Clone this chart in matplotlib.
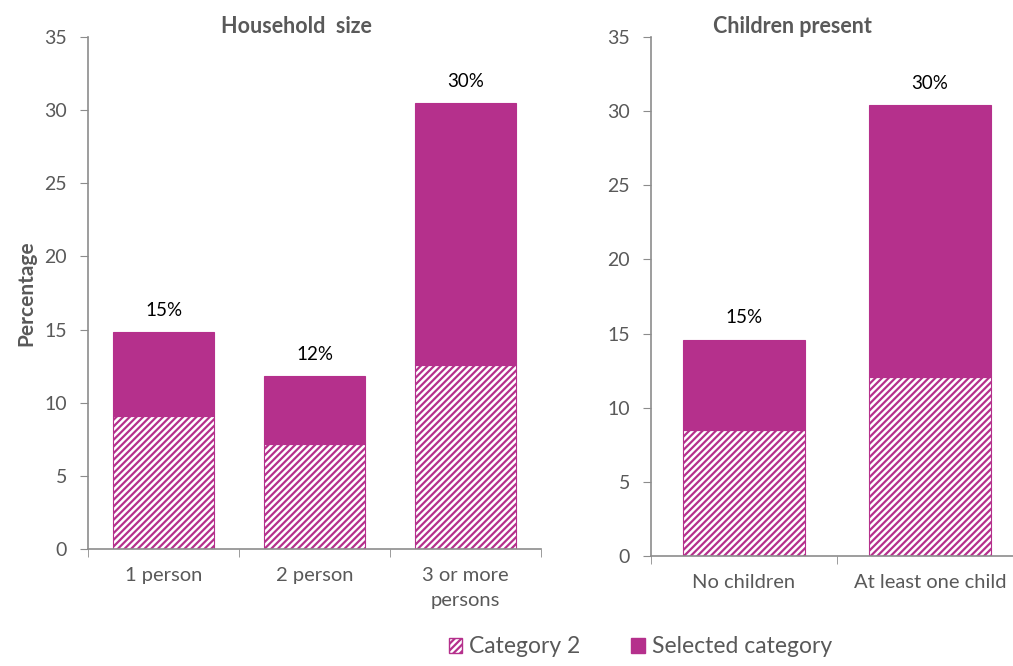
import matplotlib.pyplot as plt
import numpy as np
from matplotlib.patches import Patch

plt.rcParams['font.family'] = ['Lato', 'DejaVu Sans']
plt.rcParams['hatch.color'] = '#B5308C'
plt.rcParams['hatch.linewidth'] = 1.6

# data
hh_labels = ['1 person', '2 person', '3 or more\npersons']
hh_cat2 = [9.1, 7.2, 12.6]
hh_total = [14.8, 11.8, 30.5]
hh_pct = ['15%', '12%', '30%']

ch_labels = ['No children', 'At least one child']
ch_cat2 = [8.5, 12.1]
ch_total = [14.6, 30.4]
ch_pct = ['15%', '30%']

magenta = '#B5308C'
gray = '#595959'
axis_gray = '#8C8C8C'

fig = plt.figure(figsize=(10.13, 6.66), dpi=100)
ax1 = fig.add_axes([88/1013, 1-549/666, 453/1013, 512/666])
ax2 = fig.add_axes([651/1013, 1-556/666, 372/1013, 519/666])


def draw(ax, labels, cat2, total, pct, title, width):
    x = np.arange(len(labels))
    sel = np.array(total) - np.array(cat2)
    ax.bar(x, cat2, width, color='white', edgecolor=magenta, hatch='/////', linewidth=0.8)
    ax.bar(x, sel, width, bottom=cat2, color=magenta, edgecolor=magenta, linewidth=0.8)
    for xi, t, p in zip(x, total, pct):
        ax.text(xi, t + 0.9, p, ha='center', va='bottom', fontsize=13.5, color='black')
    ax.set_xlim(-0.5, len(labels) - 0.5)
    ax.set_ylim(0, 35)
    ax.set_yticks(range(0, 36, 5))
    ax.set_xticks(x)
    ax.set_xticklabels(labels, fontsize=14.5, color=gray, linespacing=1.55)
    ax.set_xticks(np.arange(-0.5, len(labels), 1.0), minor=True)
    ax.tick_params(axis='x', which='major', length=0, pad=13)
    ax.tick_params(axis='x', which='minor', length=6, color=axis_gray, direction='out')
    ax.tick_params(axis='y', length=6, color=axis_gray, labelsize=14, labelcolor=gray, pad=9)
    for s in ['top', 'right']:
        ax.spines[s].set_visible(False)
    for s in ['left', 'bottom']:
        ax.spines[s].set_color(axis_gray)
        ax.spines[s].set_linewidth(1.2)
    ax.set_title(title, fontsize=15.5, fontweight='bold', color=gray, pad=2)


draw(ax1, hh_labels, hh_cat2, hh_total, hh_pct, 'Household  size', 0.67)
ax1.title.set_position((0.46, 1.0))
draw(ax2, ch_labels, ch_cat2, ch_total, ch_pct, 'Children present', 0.66)
ax2.title.set_position((0.38, 1.0))
ax1.set_ylabel('Percentage', fontsize=15, fontweight='bold', color=gray, labelpad=6)

handles = [Patch(facecolor='white', edgecolor=magenta, hatch='/////', label='Category 2'),
           Patch(facecolor=magenta, edgecolor=magenta, label='Selected category')]
fig.legend(handles=handles, loc='lower center', bbox_to_anchor=(0.632, -0.018), ncol=2,
           frameon=False, fontsize=16.5, labelcolor=gray, handlelength=0.6, handleheight=0.6,
           handletextpad=0.3, columnspacing=2.2)

plt.savefig('out.png', dpi=100)
